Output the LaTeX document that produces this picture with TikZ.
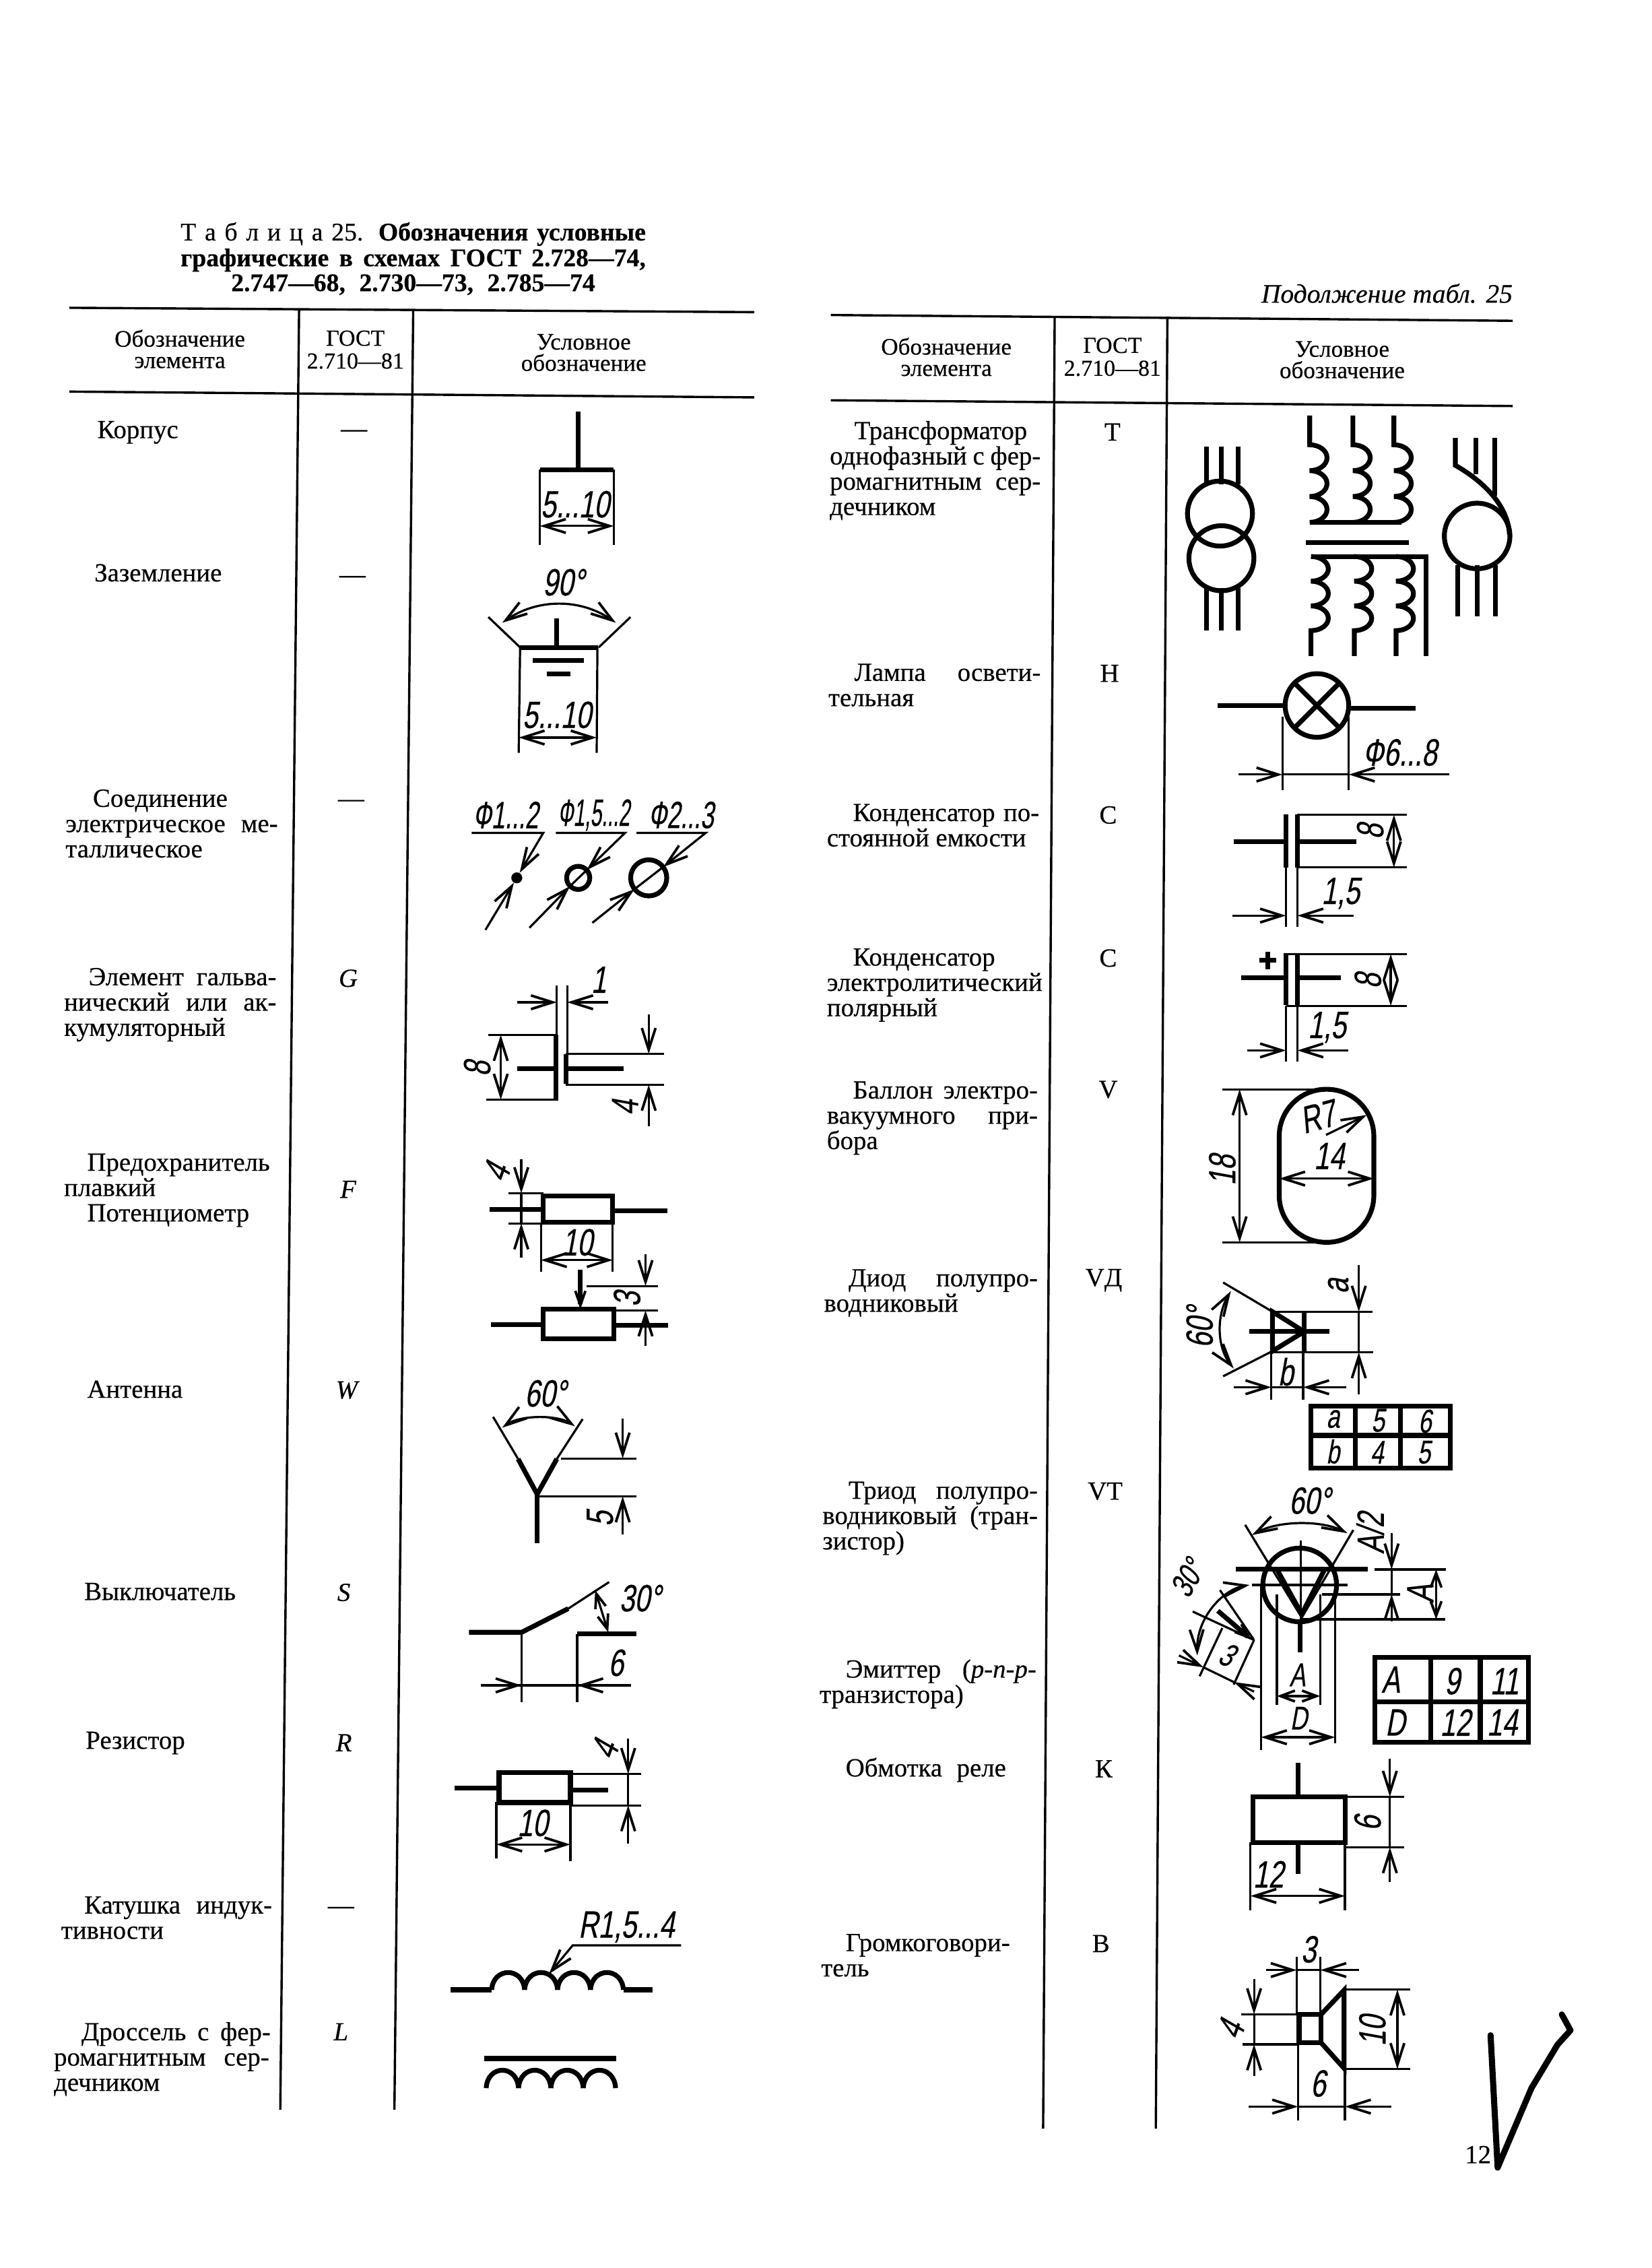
\documentclass[tikz,border=0pt]{standalone}
\usepackage{fontspec}
\setmainfont[FakeBold=0.4]{Liberation Serif}
\newfontfamily\dimfont[FakeStretch=0.72,FakeSlant=0.18,FakeBold=0.3]{Liberation Sans}
\usetikzlibrary{arrows.meta}
\newcommand{\jl}[2]{\makebox[#1][s]{#2}}
\begin{document}
\begin{tikzpicture}[
  x=0.02cm, y=-0.02cm,
  >={Straight Barb[length=0.3cm,width=0.19cm,line width=1pt]},
  rule/.style={line width=0.9pt},
  ext/.style={line width=0.85pt},
  wire/.style={line width=1.9pt},
  dim/.style={line width=0.85pt, <->},
  dimto/.style={line width=0.85pt, ->},
  dimshort/.style={line width=0.85pt, <->, >={Straight Barb[length=0.2cm,width=0.15cm,line width=1pt]}},
  cell/.style={anchor=north west, inner sep=0pt, align=left, font=\fontsize{10.3}{9.96}\selectfont},
  code/.style={inner sep=0pt, font=\fontsize{10.3}{10}\selectfont},
  head/.style={inner sep=0pt, align=center, font=\fontsize{9.3}{8.4}\selectfont},
  title/.style={inner sep=0pt, font=\fontsize{10}{10}\selectfont\bfseries},
  dimtext/.style={inner sep=0pt, font=\dimfont\fontsize{15}{15}\selectfont},
  dimsmall/.style={inner sep=0pt, font=\dimfont\fontsize{13}{13}\selectfont}
]
\useasboundingbox (0,0) rectangle (1143,1569.5);

\node[title] (title1) at (286,162) {\jl{6.44cm}{\mdseries Т а б л и ц а 25. \bfseries Обозначения условные}};
\node[title] (title2) at (286,180) {\jl{6.44cm}{графические в схемах ГОСТ 2.728—74,}};
\node[title] (title3) at (286,197) {\jl{5.04cm}{2.747—68, 2.730—73, 2.785—74}};
\node[code, font=\fontsize{10.5}{10}\selectfont\itshape] (cont) at (960,203) {\jl{3.48cm}{Подолжение табл. 25}};

\draw[rule] (48,213) -- (522,216);
\draw[rule] (48,271) -- (522,275);
\draw[rule] (207,215) -- (194,1460);
\draw[rule] (286,215) -- (273,1460);
\draw[rule] (575,218) -- (1047,222);
\draw[rule] (575,277) -- (1047,281);
\draw[rule] (730,219) -- (722,1473);
\draw[rule] (808,219) -- (800,1473);

\node[head] (headA) at (124.5,241.5) {Обозначение\\элемента};
\node[head, font=\fontsize{9}{9}\selectfont] (headB) at (246,242) {ГОСТ\\2.710—81};
\node[head] (headC) at (404,244) {Условное\\обозначение};
\node[head] (headD) at (655,247) {Обозначение\\элемента};
\node[head, font=\fontsize{9}{9}\selectfont] (headE) at (770,247) {ГОСТ\\2.710—81};
\node[head] (headF) at (929,249) {Условное\\обозначение};

\node[cell] (korpus) at (67,291) {Корпус};
\node[cell] (zazem) at (65,390) {Заземление};
\node[cell] (soed) at (45,546) {\hspace*{0.38cm}Соединение\\\jl{2.94cm}{электрическое ме-}\\таллическое};
\node[cell] (galv) at (44,669.5) {\hspace*{0.34cm}\jl{2.6cm}{Элемент гальва-}\\\jl{2.94cm}{нический или ак-}\\кумуляторный};
\node[cell] (predo) at (44,798) {\hspace*{0.32cm}Предохранитель\\плавкий\\\hspace*{0.32cm}Потенциометр};
\node[cell] (anten) at (60,955) {Антенна};
\node[cell] (vykl) at (58,1095) {Выключатель};
\node[cell] (rezis) at (59,1198) {Резистор};
\node[cell] (katush) at (42,1312) {\hspace*{0.32cm}\jl{2.6cm}{Катушка индук-}\\тивности};
\node[cell] (dross) at (37,1399) {\hspace*{0.38cm}\jl{2.62cm}{Дроссель с фер-}\\\jl{2.98cm}{ромагнитным сер-}\\дечником};

\node[cell] (trans) at (574,291) {\hspace*{0.34cm}Трансформатор\\\jl{2.92cm}{однофазный с фер-}\\\jl{2.92cm}{ромагнитным сер-}\\дечником};
\node[cell] (lampa) at (573,459) {\hspace*{0.36cm}\jl{2.58cm}{Лампа освети-}\\тельная};
\node[cell] (konds) at (572,556) {\hspace*{0.36cm}\jl{2.58cm}{Конденсатор по-}\\стоянной емкости};
\node[cell] (kondp) at (572,656) {\hspace*{0.36cm}Конденсатор\\\jl{2.94cm}{электролитический}\\полярный};
\node[cell] (ballon) at (572,748) {\hspace*{0.36cm}\jl{2.56cm}{Баллон электро-}\\\jl{2.92cm}{вакуумного при-}\\бора};
\node[cell] (diod) at (570,878) {\hspace*{0.34cm}\jl{2.62cm}{Диод полупро-}\\водниковый};
\node[cell] (triod) at (569,1025) {\hspace*{0.36cm}\jl{2.62cm}{Триод полупро-}\\\jl{2.98cm}{водниковый (тран-}\\зистор)};
\node[cell] (emit) at (567,1148) {\hspace*{0.36cm}\jl{2.64cm}{Эмиттер (\textit{р-п-р-}}\\транзистора)};
\node[cell] (obmot) at (585,1216) {\jl{2.22cm}{Обмотка реле}};
\node[cell] (gromk) at (568,1338) {\hspace*{0.34cm}Громкоговори-\\тель};

\node[code] (gA) at (245,300) {—};
\node[code] (gB) at (244,401) {—};
\node[code] (gC) at (243,556) {—};
\node[code] (gD) at (241,677) {\itshape G};
\node[code] (gE) at (241,823) {\itshape F};
\node[code] (gF) at (240,962) {\itshape W};
\node[code] (gG) at (238,1102) {\itshape S};
\node[code] (gH) at (238,1206) {\itshape R};
\node[code] (gI) at (236,1322) {—};
\node[code] (gJ) at (236,1406) {\itshape L};
\node[code] (gK) at (770,299) {Т};
\node[code] (gL) at (768,466) {Н};
\node[code] (gM) at (767,564) {С};
\node[code] (gN) at (767,663) {С};
\node[code] (gO) at (767,754) {V};
\node[code] (gP) at (764,886) {VД};
\node[code] (gQ) at (765,1032) {VT};
\node[code] (gR) at (764,1224) {К};
\node[code] (gS) at (762,1345) {В};
\node[code] (page) at (1023,1491) {12};

\draw[wire] (400,285) -- (400,325);
\draw[wire] (373.7,325) -- (424.8,325);
\draw[ext] (373.7,325) -- (373.7,377);
\draw[ext] (424.8,325) -- (424.8,377);
\draw[dim] (373.7,364) -- (424.8,364);
\node[dimtext] (t510a) at (398,349) {5...10};

\node[dimtext] (t90) at (390,403) {90°};
\draw[ext] (338,427) -- (360,448);
\draw[ext] (436.4,427) -- (414.4,448);
\draw[dim] (347.6,431) .. controls (372,414) and (402,414) .. (426.3,431);
\draw[wire] (360,448) -- (414,448);
\draw[wire] (385.4,428) -- (385.4,448);
\draw[wire] (368.7,457) -- (404.3,457);
\draw[wire] (378.4,466.5) -- (394.8,466.5);
\draw[ext] (360,448) -- (359,521);
\draw[ext] (413.5,448) -- (413,521);
\draw[dim] (359,510.4) -- (413,510.4);
\node[dimtext] (t510b) at (385.4,494.7) {5...10};

\node[dimtext] (tf1) at (350,564) {\scalebox{0.88}[1]{Ф1...2}};
\node[dimtext] (tf2) at (411,564) {\scalebox{0.74}[1]{Ф1,5...2}};
\node[dimtext] (tf3) at (471.4,564) {\scalebox{0.88}[1]{Ф2...3}};
\draw[dimto] (326.5,576.4) -- (376,576.4) -- (359.7,604);
\draw[dimto] (336,643.5) -- (355.7,610.8);
\fill (357.7,607.5) circle (3.8);
\draw[dimto] (384.7,576.4) -- (432.6,576.4) -- (406.1,602.1);
\draw[dimto] (366.5,642) -- (394.6,613.2);
\draw[wire] (400.2,607.5) circle (8);
\draw[ext] (394.6,613.2) -- (406.1,602.1);
\draw[dimto] (440.5,576.4) -- (488.4,576.4) -- (459,600);
\draw[dimto] (410,638.6) -- (439.2,615.3);
\draw[wire] (449,607.5) circle (12.5);
\draw[ext] (439.2,615.3) -- (459,600);

\node[dimtext] (t1) at (414.4,678) {1};
\draw[ext] (385.4,682) -- (385.4,716);
\draw[ext] (392.6,682) -- (392.6,729);
\draw[dimto] (358,693.6) -- (385.4,693.6);
\draw[dimto] (421,693.6) -- (392.6,693.6);
\draw[wire] (384.7,716) -- (384.7,761.5);
\draw[wire] (358,739.5) -- (384.7,739.5);
\draw[ext] (338,716.2) -- (384.7,716.2);
\draw[ext] (336.5,761) -- (384.7,761);
\draw[dim] (346.6,716.2) -- (346.6,761);
\node[dimtext, rotate=90] (t8a) at (330.3,739.5) {8};
\draw[wire] (391.7,729.3) -- (391.7,750.2);
\draw[wire] (391.7,739.5) -- (431.7,739.5);
\draw[ext] (391.7,729.3) -- (459.4,729.3);
\draw[ext] (391.7,750.7) -- (459.4,750.7);
\draw[dimto] (449,702) -- (449,729.3);
\draw[dimto] (449,779.5) -- (449,750.7);
\node[dimtext, rotate=90] (t4a) at (432.6,766.4) {4};

\draw[wire] (376,827.6) rectangle (424.1,845.9);
\draw[wire] (338.8,837) -- (376,837);
\draw[wire] (424.1,838) -- (462,838);
\draw[ext] (351.7,825.7) -- (376,825.7);
\draw[ext] (351.7,846.6) -- (376,846.6);
\draw[dimto] (360.8,802) -- (360.8,825.7);
\draw[dimto] (360.8,870.4) -- (360.8,846.6);
\draw[ext] (360.8,825.7) -- (360.8,846.6);
\node[dimtext, rotate=70] (t4b) at (343.5,811) {4};
\node[dimtext] (t10a) at (399.5,859.7) {10};
\draw[ext] (374.4,846) -- (374.4,880);
\draw[ext] (424.1,846) -- (424.1,880);
\draw[dim] (374.4,872) -- (424.1,872);

\draw[wire] (376,906) rectangle (424.8,926.3);
\draw[wire] (339.7,916.8) -- (376,916.8);
\draw[wire] (424.8,917) -- (462.5,917);
\draw[wire, -{Straight Barb[length=0.2cm,width=0.14cm,line width=1pt]}] (401.7,878.7) -- (401.7,906);
\draw[ext] (405.9,890) -- (455.6,890);
\draw[ext] (424.8,906.8) -- (455.6,906.8);
\draw[dimto] (446.8,868) -- (446.8,890);
\draw[dimto] (446.8,931.5) -- (446.8,906.8);
\node[dimtext, rotate=90] (t3a) at (434,899) {3};

\node[dimtext] (t60a) at (377.5,964.3) {60°};
\draw[dim] (347.6,988) .. controls (360,979) and (386,979) .. (398,987);
\draw[ext] (341.3,980.5) -- (358.6,1009.6);
\draw[ext] (403.3,982) -- (385.4,1009.6);
\draw[wire] (358.6,1009.6) -- (371.8,1034);
\draw[wire] (385.4,1009.6) -- (371.8,1034);
\draw[wire] (371.8,1034) -- (371.8,1068);
\draw[ext] (388.5,1009.3) -- (440.5,1009.3);
\draw[ext] (371.8,1035.5) -- (440.5,1035.5);
\draw[dimto] (431,981.5) -- (431,1009.3);
\draw[dimto] (431,1061.8) -- (431,1035.5);
\node[dimtext, rotate=90] (t5a) at (415.3,1051) {5};

\draw[wire] (324.6,1129.6) -- (361,1129.6) -- (393.3,1113.2);
\draw[ext] (393.3,1113.2) -- (421.6,1094.8);
\draw[wire] (399.5,1130.7) -- (440.5,1130.7);
\draw[ext] (399.5,1130.7) -- (399.5,1178);
\draw[ext] (361,1129.6) -- (361,1178);
\draw[ext] (332.8,1166.3) -- (436.7,1166.3);
\draw[dimto] (332.8,1166.3) -- (361,1166.3);
\draw[dimto] (436.7,1166.3) -- (399.5,1166.3);
\node[dimtext] (t6a) at (426.3,1150.7) {6};
\node[dimtext] (t30a) at (443,1106) {30°};
\draw[dimshort] (412,1100.5) -- (421,1129.6);

\draw[wire] (345.4,1226.7) rectangle (394.8,1247.4);
\draw[wire] (314.5,1237.5) -- (345.4,1237.5);
\draw[wire] (394.8,1238.9) -- (421,1238.9);
\draw[ext] (394.8,1227.6) -- (443.7,1227.6);
\draw[ext] (394.8,1249.3) -- (443.7,1249.3);
\draw[dimto] (434.8,1203) -- (434.8,1227.6);
\draw[dimto] (434.8,1275.6) -- (434.8,1249.3);
\draw[ext] (434.8,1227.6) -- (434.8,1249.3);
\node[dimtext, rotate=70] (t4c) at (418.5,1210.6) {4};
\node[dimtext] (t10b) at (368.7,1261.5) {10};
\draw[ext] (343.5,1247) -- (343.5,1286);
\draw[ext] (394.8,1247) -- (394.8,1287.8);
\draw[dim] (343.5,1276.4) -- (394.8,1276.4);

\draw[wire] (312,1377) -- (340.3,1377);
\foreach \hx in {340.3,363.1,385.9,408.7} {
  \draw[wire] (\hx,1377) .. controls (\hx+1,1361) and (\hx+21.8,1361) .. (\hx+22.8,1377);
}
\draw[wire] (431.5,1377) -- (451.5,1377);
\draw[dimto] (471.4,1346.2) -- (396.4,1346.2) -- (380,1366);
\node[dimtext] (tr) at (433.6,1333.5) {R1,5...4};
\draw[wire] (335,1424.5) -- (426.3,1424.5);
\foreach \hx in {336.5,358.9,381.3,403.7} {
  \draw[wire] (\hx,1445) .. controls (\hx+1,1428.5) and (\hx+21.4,1428.5) .. (\hx+22.4,1445);
}

\draw[wire] (844.4,355.4) circle (22.5);
\draw[wire] (845.4,386.3) circle (22.5);
\foreach \lx in {835,845.4,857} {
  \draw[wire] (\lx,309) -- (\lx,335);
  \draw[wire] (\lx,407) -- (\lx,436.3);
}
\foreach \lx in {906.5,936.4,964.8} {
  \draw[wire] (\lx,287.6) -- (\lx,307.8) arc (-90:90:12 and 8.95) arc (-90:90:12 and 8.95) arc (-90:90:12 and 8.95);
}
\draw[wire] (906.5,361.4) -- (970,361.4);
\draw[wire] (904,375.6) -- (975,375.6);
\draw[wire] (907.4,385.1) -- (987,385.1) -- (987,454);
\foreach \lx in {907.4,937.4,966.3} {
  \draw[wire] (\lx,385.1) arc (-90:90:12 and 8.55) arc (-90:90:12 and 8.55) arc (-90:90:12 and 8.55) -- (\lx,454);
}
\draw[wire] (1022.4,370.9) circle (22.7);
\foreach \lx in {1008.8,1022.4,1035} {
  \draw[wire] (\lx,391) -- (\lx,426.3);
}
\draw[wire] (1007.3,303) -- (1007.3,322) .. controls (1030,335) and (1044,352) .. (1044.8,370);
\draw[wire] (1021.5,303) -- (1021.5,328);
\draw[wire] (1034.4,303) -- (1034.4,343);

\draw[wire] (911.5,488.2) circle (22);
\draw[wire] (895.9,472.6) -- (927.1,503.8);
\draw[wire] (895.9,503.8) -- (927.1,472.6);
\draw[wire] (842.9,488.2) -- (889.5,488.2);
\draw[wire] (933.5,490) -- (979.9,490);
\draw[ext] (887.6,495.8) -- (887.6,546.9);
\draw[ext] (933.6,495.8) -- (933.6,546.9);
\draw[ext] (887.6,536) -- (933.6,536);
\draw[dimto] (857,536) -- (887.6,536);
\draw[dimto] (1002.9,536) -- (933.6,536);
\node[dimtext] (tf6) at (968.9,520.7) {Ф6...8};

\draw[wire] (890.1,563.5) -- (890.1,600.3);
\draw[wire] (898,563.5) -- (898,600.3);
\draw[wire] (853.9,582.5) -- (890.1,582.5);
\draw[wire] (898,582.5) -- (938.9,582.5);
\draw[ext] (898,563.9) -- (973.6,563.9);
\draw[ext] (898,600.3) -- (973.6,600.3);
\draw[dim] (964.8,563.9) -- (964.8,600.3);
\node[dimtext, rotate=90] (t8b) at (948.4,575.4) {8};
\draw[ext] (890.1,600) -- (890.1,641.5);
\draw[ext] (898,600) -- (898,641.5);
\draw[dimto] (853.2,633.6) -- (890.1,633.6);
\draw[dimto] (936.7,633.6) -- (898,633.6);
\node[dimtext] (t15a) at (927.9,618.2) {1,5};

\draw[wire] (890.1,659.8) -- (890.1,695.5);
\draw[wire] (898,659.8) -- (898,695.5);
\draw[wire] (859.2,676.5) -- (890.1,676.5);
\draw[wire] (898,676.5) -- (927.9,676.5);
\draw[wire] (871.5,664.6) -- (883.5,664.6);
\draw[wire] (877.5,658.6) -- (877.5,670.6);
\draw[ext] (890.1,660.3) -- (973.6,660.3);
\draw[ext] (890.1,696) -- (973.6,696);
\draw[dim] (962.6,660.3) -- (962.6,696);
\node[dimtext, rotate=90] (t8c) at (946.8,678.8) {8};
\draw[ext] (890.1,696) -- (890.1,734.8);
\draw[ext] (898,696) -- (898,734.8);
\draw[dimto] (863.3,726.9) -- (890.1,726.9);
\draw[dimto] (933.3,726.9) -- (898,726.9);
\node[dimtext] (t15b) at (918.5,711) {1,5};

\draw[wire, rounded corners=0.65cm] (885.4,753.8) rectangle (950.9,859.7);
\draw[ext] (846,753.8) -- (918,753.8);
\draw[ext] (846,859.7) -- (918,859.7);
\draw[dim] (858,753.8) -- (858,859.7);
\node[dimtext, rotate=90] (t18) at (846,809.7) {18};
\node[dimtext, rotate=15] (tr7) at (912.1,772.8) {R7};
\draw[dimto] (917.8,785.4) -- (946,771.6);
\node[dimtext] (t14) at (920,800) {14};
\draw[dim] (885.4,815.6) -- (950.9,815.6);

\draw[wire] (880.7,907.7) -- (880.7,935) -- (902.7,921.5) -- cycle;
\draw[wire] (902.7,907.7) -- (902.7,935);
\draw[wire] (864.9,921.5) -- (920,921.5);
\draw[ext] (880.7,907.7) -- (950,907.7);
\draw[ext] (880.7,935.8) -- (950.6,935.8);
\draw[ext] (846.6,887.5) -- (880.7,907.7);
\draw[ext] (846.6,952.4) -- (880.7,935);
\draw[dim] (852,893.4) .. controls (842,910) and (842,932) .. (853.9,947);
\node[dimtext, rotate=90] (t60b) at (830.3,918.4) {60°};
\draw[dimto] (940.5,875.6) -- (940.5,907.7);
\draw[dimto] (940.5,964.8) -- (940.5,935.8);
\draw[ext] (940.5,907.7) -- (940.5,935.8);
\node[dimtext, rotate=90] (ta) at (926.3,889.9) {a};
\draw[ext] (880,935) -- (880,968.8);
\draw[ext] (902,935) -- (902,968.8);
\draw[ext] (880,960) -- (902,960);
\draw[dimto] (853.9,960) -- (880,960);
\draw[dimto] (931.7,960) -- (902,960);
\node[dimtext] (tb) at (890,949.3) {b};

\draw[wire] (907.4,973) rectangle (1004,1016);
\draw[wire] (907.4,993.3) -- (1004,993.3);
\draw[wire] (938,973) -- (938,1016);
\draw[wire] (969.5,973) -- (969.5,1016);
\node[dimsmall] (ca) at (922.6,982) {a};
\node[dimsmall] (c5a) at (953.7,983) {5};
\node[dimsmall] (c6) at (986.2,983.5) {6};
\node[dimsmall] (cb) at (922.6,1004.5) {b};
\node[dimsmall] (c4) at (953.1,1005) {4};
\node[dimsmall] (c5b) at (985.5,1005) {5};

\draw[wire] (899.6,1096.8) circle (25.5);
\draw[wire] (855.5,1085.7) -- (946.8,1085.7);
\draw[ext] (900.5,1066) -- (900.5,1122);
\draw[wire] (900,1121.8) -- (900,1143.2);
\draw[ext] (861.8,1055.2) -- (901,1119.4) -- (936.7,1058.8);
\draw[wire] (883.8,1086) -- (901,1117) -- (916.9,1086);
\draw[dim] (866.5,1062.3) .. controls (885,1052) and (915,1052) .. (932.6,1061);
\node[dimtext] (t60c) at (906.5,1038.5) {60°};
\node[dimtext, rotate=90] (ta2) at (948.4,1061) {A/2};
\draw[ext] (951.5,1086.1) -- (1001,1086.1);
\draw[ext] (915,1103.3) -- (968.9,1103.3);
\draw[ext] (900,1120.6) -- (1000.4,1120.6);
\draw[ext] (866.5,1096.8) -- (932.6,1096.8);
\draw[dimto] (963.2,1061) -- (963.2,1086.1);
\draw[dimto] (963.2,1122) -- (963.2,1103.3);
\draw[ext] (963.2,1086.1) -- (963.2,1103.3);
\draw[dimshort] (994,1086.1) -- (994,1120.6);
\node[dimtext, rotate=90] (tav) at (983,1102.8) {A};
\draw[ext] (883.8,1103.3) -- (883.8,1180);
\draw[ext] (913.7,1103.3) -- (913.7,1180);
\draw[ext] (872.8,1096.8) -- (872.8,1211);
\draw[ext] (924.1,1096.8) -- (924.1,1206.3);
\draw[dimshort] (883.8,1173.7) -- (913.7,1173.7);
\node[dimsmall] (tah) at (898,1159) {A};
\draw[dim] (872.8,1202.2) -- (924.1,1202.2);
\node[dimsmall] (td) at (898.9,1189) {D};

\draw[ext] (825.5,1115.2) -- (868,1134.9);
\draw[ext] (844.4,1100.4) -- (868,1134.9);
\draw[wire, -{Straight Barb[length=0.2cm,width=0.14cm,line width=1pt]}] (842.9,1114.7) -- (866.5,1134.9);
\draw[ext] (868,1134.9) -- (853.9,1165.8);
\draw[ext] (846,1126.6) -- (830.3,1160);
\draw[ext] (833,1153.8) -- (854,1164);
\draw[dimto] (816,1145.6) -- (833,1153.8);
\draw[dimto] (868,1170.6) -- (854,1164);
\node[dimsmall, rotate=-25] (t3b) at (849.5,1145) {3};
\draw[dim] (864.9,1096.8) .. controls (846,1100) and (828,1120) .. (828.7,1145.6);
\node[dimsmall, rotate=60] (t30b) at (822,1092) {30°};

\draw[wire] (951.5,1146.8) rectangle (1057.7,1205.8);
\draw[wire] (951.5,1177.7) -- (1057.7,1177.7);
\draw[wire] (990.3,1146.8) -- (990.3,1205.8);
\draw[wire] (1024.6,1146.8) -- (1024.6,1205.8);
\node[dimtext] (cA) at (962.6,1162.3) {A};
\node[dimtext] (c9) at (1005.1,1163.4) {9};
\node[dimtext] (c11) at (1041.3,1163.4) {11};
\node[dimtext] (cD) at (965.7,1192) {D};
\node[dimtext] (c12) at (1007.3,1192) {12};
\node[dimtext] (c14) at (1039.7,1192) {14};

\draw[wire] (867.1,1243.4) rectangle (931.2,1275.2);
\draw[wire] (898.5,1220) -- (898.5,1243.4);
\draw[wire] (898.5,1275.2) -- (898.5,1297);
\draw[ext] (931.2,1243.4) -- (971.8,1243.4);
\draw[ext] (931.2,1278.3) -- (971.8,1278.3);
\draw[dimto] (962,1216.9) -- (962,1243.4);
\draw[dimto] (962,1302.3) -- (962,1278.3);
\draw[ext] (962,1243.4) -- (962,1278.3);
\node[dimtext, rotate=90] (t6b) at (946.6,1261.7) {6};
\draw[ext] (865.5,1275) -- (865.5,1322);
\draw[ext] (930.9,1275) -- (930.9,1322);
\draw[dim] (865.5,1312) -- (930.9,1312);
\node[dimtext] (t12) at (877.9,1297) {12};

\draw[wire] (899.2,1393.9) rectangle (914.5,1413.7);
\draw[wire] (914.5,1393.9) -- (930.3,1377.2) -- (930.3,1431.3) -- (914.5,1413.7);
\draw[ext] (930.3,1376.8) -- (976,1376.8);
\draw[ext] (930.3,1431.8) -- (976,1431.8);
\draw[dim] (967.2,1376.8) -- (967.2,1431.8);
\node[dimtext, rotate=90] (t10c) at (949.9,1405.3) {10};
\draw[ext] (859.3,1393.9) -- (899.2,1393.9);
\draw[ext] (859.9,1414.7) -- (899.2,1414.7);
\draw[dimto] (868,1369.5) -- (868,1393.9);
\draw[dimto] (868,1436.6) -- (868,1414.7);
\draw[ext] (868,1393.9) -- (868,1414.7);
\node[dimtext, rotate=70] (t4d) at (851.7,1404.3) {4};
\draw[ext] (897.5,1354.3) -- (897.5,1393.9);
\draw[ext] (913.9,1354.3) -- (913.9,1393.9);
\draw[ext] (897.5,1363.3) -- (913.9,1363.3);
\draw[dimto] (876.3,1363.3) -- (897.5,1363.3);
\draw[dimto] (940.7,1363.3) -- (913.9,1363.3);
\node[dimtext] (t3c) at (905.7,1349) {3};
\draw[ext] (898.5,1413.7) -- (898.5,1467.4);
\draw[ext] (930.9,1431.3) -- (930.9,1467.4);
\draw[ext] (898.5,1457.8) -- (930.9,1457.8);
\draw[dimto] (864.2,1457.8) -- (898.5,1457.8);
\draw[dimto] (963,1457.8) -- (930.9,1457.8);
\node[dimtext] (t6c) at (912.3,1441.8) {6};

\draw[line width=2.4pt, line cap=round, line join=round] (1031.7,1408.4) -- (1036.6,1500) -- (1060,1445) -- (1078,1415) -- (1087,1405) -- (1081,1394);
\end{tikzpicture}
\end{document}
